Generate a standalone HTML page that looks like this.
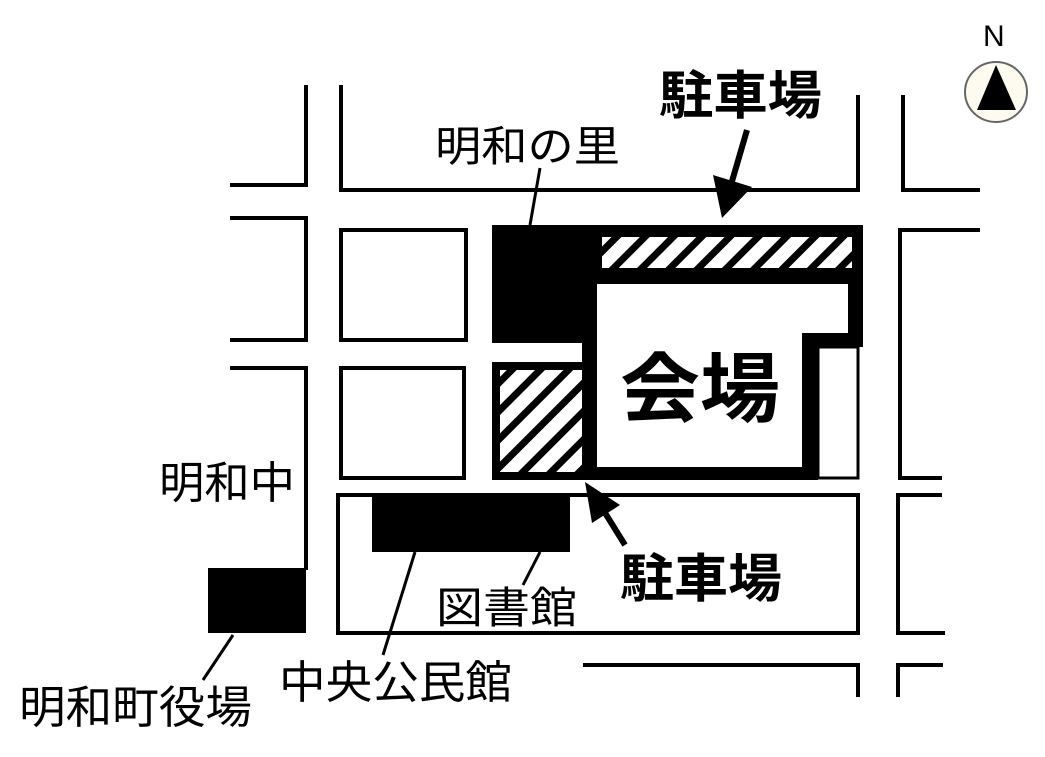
<!DOCTYPE html>
<html><head><meta charset="utf-8"><style>
html,body{margin:0;padding:0;background:#fff}
svg{display:block}
text{font-family:"Liberation Sans","Noto Sans CJK JP",sans-serif;fill:#000}
</style></head><body>
<svg width="1045" height="757" viewBox="0 0 1045 757" xmlns="http://www.w3.org/2000/svg">
<defs>
<pattern id="h" patternUnits="userSpaceOnUse" width="20" height="20" patternTransform="rotate(45)">
<rect width="20" height="20" fill="#fff"/><rect width="7" height="20" fill="#000"/>
</pattern>
</defs>
<g fill="none" stroke="#000" stroke-width="4">
<polyline points="230,185 306,185 306,85"/>
<polyline points="341,85 341,190 858,190 858,95"/>
<polyline points="903,95 903,190 980,190"/>
<polyline points="230,218 306,218 306,340 230,340"/>
<rect x="341" y="230" width="125" height="110"/>
<polyline points="230,368 306,368 306,570"/>
<rect x="341" y="368" width="123" height="110"/>
<rect x="338" y="495" width="520" height="138"/>
<polyline points="583,665 858,665 858,697"/>
<polyline points="898,697 898,665 943,665"/>
<polyline points="980,230 900,230 900,478 942,478"/>
<polyline points="942,495 898,495 898,633 945,633"/>
<rect x="818" y="347" width="40" height="131" stroke-width="3"/>
</g>
<rect x="588" y="225" width="275" height="122" fill="#000"/>
<rect x="582" y="268" width="15" height="212" fill="#000"/>
<rect x="582" y="467" width="236" height="13" fill="#000"/>
<rect x="802" y="333" width="16" height="147" fill="#000"/>
<polygon points="597,284 848,284 848,333 802,333 802,467 597,467" fill="#fff"/>
<rect x="602" y="237" width="250" height="31" fill="url(#h)"/>
<rect x="492" y="225" width="96" height="118" fill="#000"/>
<rect x="492" y="362" width="105" height="118" fill="#000"/>
<rect x="500" y="370" width="82" height="102" fill="url(#h)"/>
<rect x="372" y="493" width="198" height="59" fill="#000"/>
<rect x="208" y="568" width="98" height="65" fill="#000"/>
<g stroke="#000" stroke-width="3">
<line x1="540" y1="168" x2="530" y2="225"/>
<line x1="540" y1="552" x2="523" y2="585"/>
<line x1="415" y1="552" x2="383" y2="655"/>
<line x1="233" y1="635" x2="203" y2="680"/>
<line x1="747" y1="130" x2="728" y2="195" stroke-width="6"/>
<line x1="625" y1="545" x2="597" y2="500" stroke-width="6"/>
</g>
<polygon points="722,218 713,175 752,187" fill="#000"/>
<polygon points="585,482 592,523 620,505" fill="#000"/>
<text x="435" y="161" font-size="42" textLength="185" lengthAdjust="spacingAndGlyphs">明和の里</text>
<text x="659" y="114" font-size="52" font-weight="bold" textLength="163" lengthAdjust="spacingAndGlyphs">駐車場</text>
<text x="620" y="416" font-size="76" font-weight="bold" textLength="160" lengthAdjust="spacingAndGlyphs">会場</text>
<text x="620" y="597" font-size="52" font-weight="bold" textLength="162" lengthAdjust="spacingAndGlyphs">駐車場</text>
<text x="159" y="498" font-size="44" textLength="136" lengthAdjust="spacingAndGlyphs">明和中</text>
<text x="436" y="623" font-size="43" textLength="141" lengthAdjust="spacingAndGlyphs">図書館</text>
<text x="279" y="698" font-size="45" textLength="233" lengthAdjust="spacingAndGlyphs">中央公民館</text>
<text x="19" y="723" font-size="45" textLength="233" lengthAdjust="spacingAndGlyphs">明和町役場</text>
<text x="983" y="46" font-size="30">N</text>
<ellipse cx="996" cy="92" rx="31" ry="30" fill="#fdfbf0" stroke="#666" stroke-width="2"/>
<polygon points="996,65 977,110 1016,110" fill="#000"/>
</svg>
</body></html>
